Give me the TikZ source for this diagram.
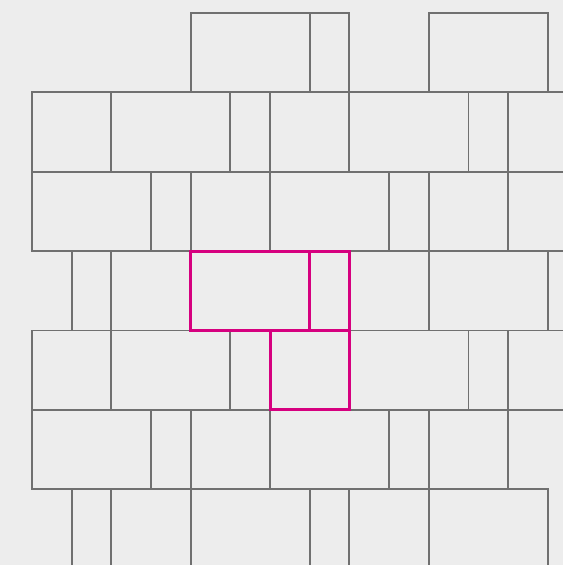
\documentclass[tikz,border=0pt]{standalone}
\usepackage{tikz}

\definecolor{tilegray}{HTML}{707070}
\definecolor{tilepink}{HTML}{D6007F}
\definecolor{paper}{HTML}{EDEDED}

\begin{document}
\begin{tikzpicture}[tile/.style={draw=tilegray, line width=1.4pt},
    picked/.style={draw=tilepink, line width=2.1pt}]
    \fill[paper] (-0.806,0.328) rectangle (13.38,-13.91);
    \useasboundingbox (-0.806,0.328) rectangle (13.38,-13.91);
    \clip (-0.806,0.328) rectangle (13.38,-13.91);
    % row 0
    \draw[tile] (4,0) rectangle (7,-2); \draw[tile] (7,0) rectangle (8,-2);
    \draw[tile] (10,0) rectangle (13,-2);
    % row 1
    \draw[tile] (0,-2) rectangle (2,-4); \draw[tile] (2,-2) rectangle (5,-4);
    \draw[tile] (5,-2) rectangle (6,-4); \draw[tile] (6,-2) rectangle (8,-4);
    \draw[tile] (8,-2) rectangle (11,-4); \draw[tile] (11,-2) rectangle (12,-4);
    \draw[tile] (12,-2) rectangle (14,-4);
    % row 2
    \draw[tile] (0,-4) rectangle (3,-6); \draw[tile] (3,-4) rectangle (4,-6);
    \draw[tile] (4,-4) rectangle (6,-6); \draw[tile] (6,-4) rectangle (9,-6);
    \draw[tile] (9,-4) rectangle (10,-6); \draw[tile] (10,-4) rectangle (12,-6);
    \draw[tile] (12,-4) rectangle (14,-6);
    % row 3
    \draw[tile] (1,-6) rectangle (2,-8); \draw[tile] (2,-6) rectangle (4,-8);
    \draw[tile] (8,-6) rectangle (10,-8); \draw[tile] (10,-6) rectangle (13,-8);
    \draw[tile] (13,-6) rectangle (16,-8);
    % row 4
    \draw[tile] (0,-8) rectangle (2,-10); \draw[tile] (2,-8) rectangle (5,-10);
    \draw[tile] (5,-8) rectangle (6,-10); \draw[tile] (8,-8) rectangle (11,-10);
    \draw[tile] (11,-8) rectangle (12,-10); \draw[tile] (12,-8) rectangle (14,-10);
    % row 5
    \draw[tile] (0,-10) rectangle (3,-12); \draw[tile] (3,-10) rectangle (4,-12);
    \draw[tile] (4,-10) rectangle (6,-12); \draw[tile] (6,-10) rectangle (9,-12);
    \draw[tile] (9,-10) rectangle (10,-12); \draw[tile] (10,-10) rectangle (12,-12);
    % row 6
    \draw[tile] (1,-12) rectangle (2,-14); \draw[tile] (2,-12) rectangle (4,-14);
    \draw[tile] (4,-12) rectangle (7,-14); \draw[tile] (7,-12) rectangle (8,-14);
    \draw[tile] (8,-12) rectangle (10,-14); \draw[tile] (10,-12) rectangle (13,-14);
    % marked tiles
    \draw[picked] (4,-6) rectangle (7,-8); \draw[picked] (7,-6) rectangle (8,-8);
    \draw[picked] (6,-8) rectangle (8,-10);
\end{tikzpicture}
\end{document}
